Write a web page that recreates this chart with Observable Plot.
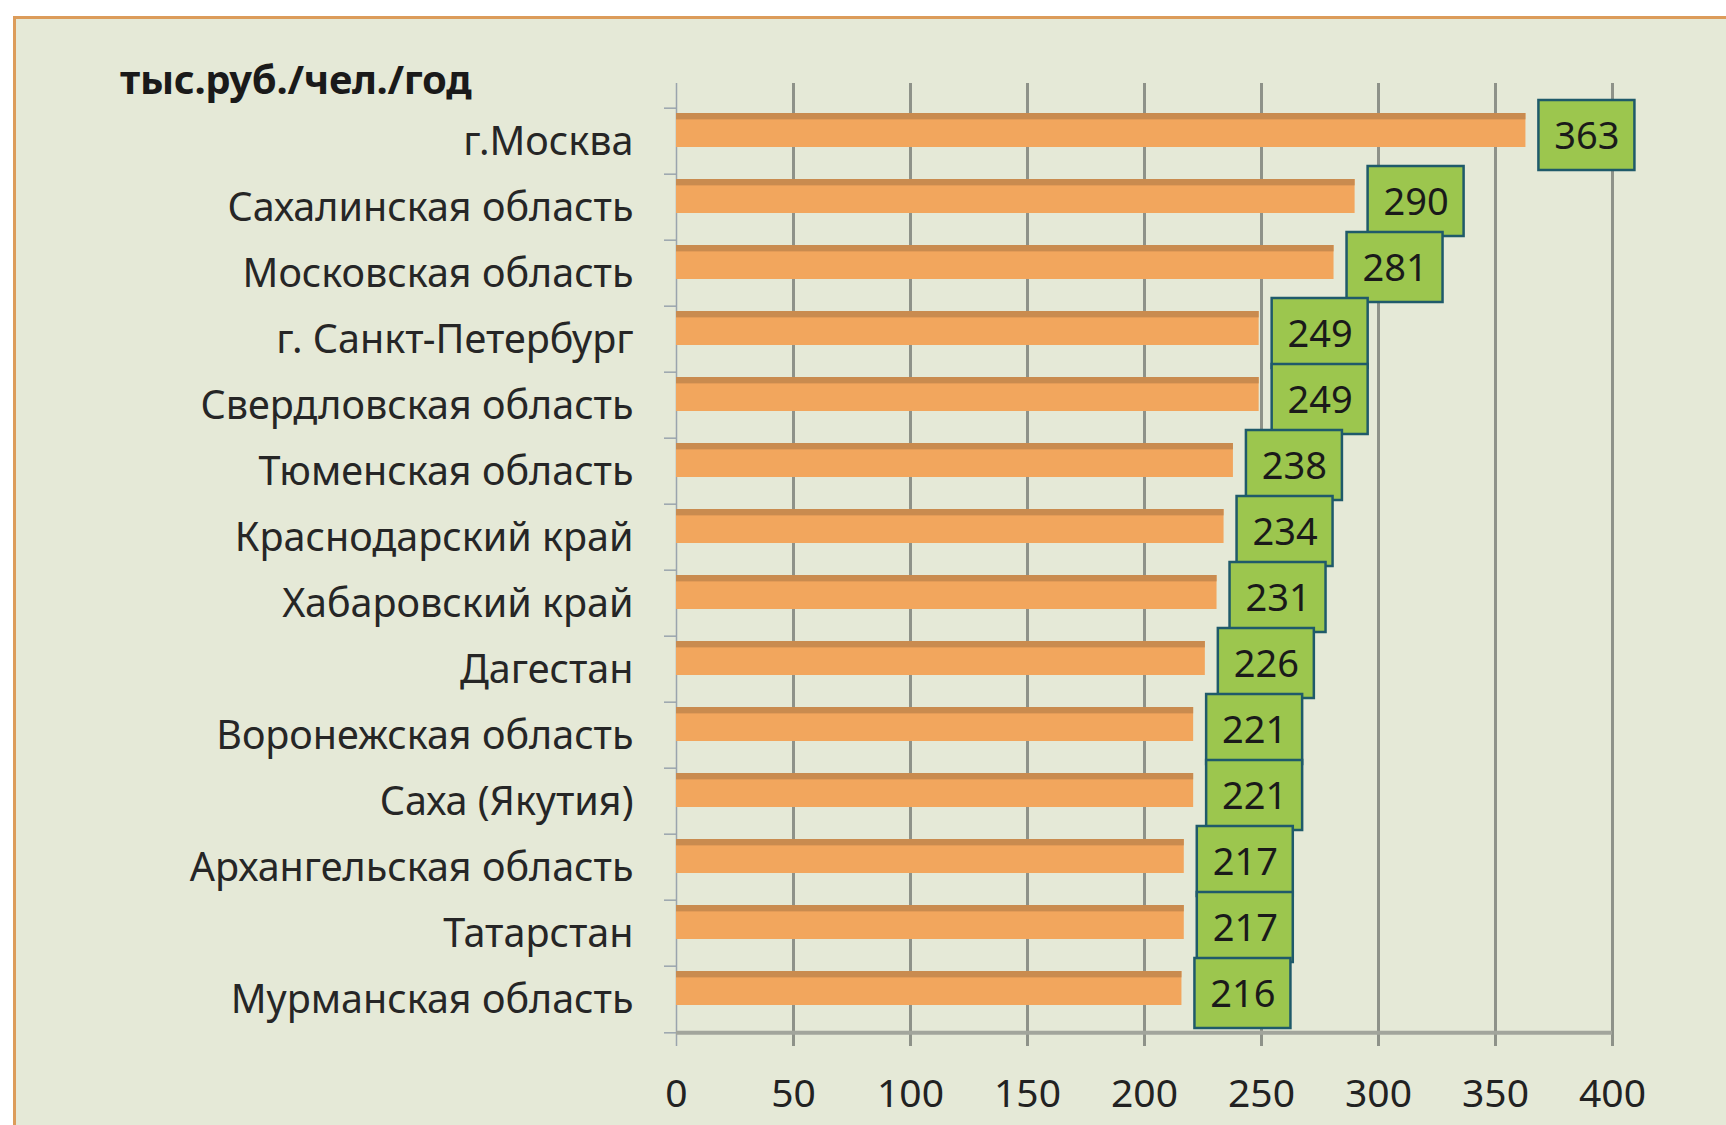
<!DOCTYPE html>
<html>
<head>
<meta charset="utf-8">
<script src="https://cdn.jsdelivr.net/npm/d3@7"></script>
<script src="https://cdn.jsdelivr.net/npm/@observablehq/plot@0.6"></script>
<style>
  html, body { margin: 0; padding: 0; background: #ffffff; }
  #wrap { position: relative; width: 1726px; height: 1125px; overflow: hidden; font-family: "Noto Sans", sans-serif; }
  #panel { position: absolute; left: 13px; top: 16px; width: 1720px; height: 1120px; background: #e5e9d7;
           border-left: 3px solid #dc9c5a; border-top: 3px solid #dc9c5a; }
  #title { position: absolute; left: 120px; top: 51px; font-size: 40px; font-weight: bold; color: #1a1a1a; letter-spacing: -0.3px; }
  #chart { position: absolute; left: 0; top: 0; }
  #chart svg { background: transparent !important; }
</style>
</head>
<body>
<div id="wrap">
  <div id="panel"></div>
  <div id="title">тыс.руб./чел./год</div>
  <div id="chart"></div>
</div>
<script>
const regions = ["г.Москва", "Сахалинская область", "Московская область", "г. Санкт-Петербург",
  "Свердловская область", "Тюменская область", "Краснодарский край", "Хабаровский край",
  "Дагестан", "Воронежская область", "Саха (Якутия)", "Архангельская область",
  "Татарстан", "Мурманская область"];
const values = [363, 290, 281, 249, 249, 238, 234, 231, 226, 221, 221, 217, 217, 216];
const xTicks = [0, 50, 100, 150, 200, 250, 300, 350, 400];

const data = regions.map((r, i) => ({region: r, value: values[i]}));

const W = 1726, H = 1125, mT = 103, mB = 89, mL = 676, mR = 114;
const band = (H - mT - mB) / regions.length;
const pxPerUnit = (W - mL - mR) / 400;
const boxW = 96 / pxPerUnit;

const plot = Plot.plot({
  width: W, height: H,
  marginTop: mT, marginBottom: mB, marginLeft: mL, marginRight: mR,
  style: {background: "transparent", fontFamily: "Noto Sans, sans-serif", color: "#262626"},
  x: {domain: [0, 400], label: null},
  y: {domain: regions, padding: 0, label: null},
  marks: [
    // gridlines
    Plot.ruleX(xTicks.slice(1), {x: d => d, stroke: "#8e9289", strokeWidth: 3, insetTop: -20, insetBottom: -10}),
    // left axis line
    Plot.ruleX([0], {stroke: "#9aa4ad", strokeWidth: 1.5, insetTop: -20, insetBottom: -10}),
    // category boundary ticks
    Plot.ruleY(regions, {y: d => d, x1: 0, x2: 0, insetLeft: -12, dy: -band / 2, stroke: "#9aa4ad", strokeWidth: 1.5}),
    Plot.ruleY([regions[regions.length - 1]], {y: d => d, x1: 0, x2: 0, insetLeft: -12, dy: band / 2, stroke: "#9aa4ad", strokeWidth: 1.5}),
    // bottom axis line
    Plot.ruleY([regions[regions.length - 1]], {y: d => d, x1: 0, x2: 400, dy: band / 2, stroke: "#a2a59c", strokeWidth: 4}),
    // axes
    Plot.axisX({ticks: xTicks, tickSize: 0, tickPadding: 43, fontSize: 39, label: null, fill: "#222"}),
    Plot.axisY({tickSize: 0, tickPadding: 43, fontSize: 39.5, label: null, fill: "#262626", dy: 1}),
    // bars
    Plot.barX(data, {x: "value", y: "region", fill: "#f2a65d", insetTop: 5, insetBottom: 27}),
    Plot.barX(data, {x: "value", y: "region", fill: "#c98b4f", insetTop: 5, insetBottom: band - 12}),
    // label boxes
    Plot.barX(data, {x1: "value", x2: d => d.value + boxW, y: "region", dx: 13, insetTop: -8, insetBottom: 4,
      fill: "#9cc64e", stroke: "#1f5a6a", strokeWidth: 2.5}),
    Plot.text(data, {x: "value", y: "region", text: d => String(d.value), dx: 13 + 48, dy: -5,
      fontSize: 38, fill: "#1a1a1a"})
  ]
});
document.getElementById("chart").appendChild(plot);
</script>
</body>
</html>
